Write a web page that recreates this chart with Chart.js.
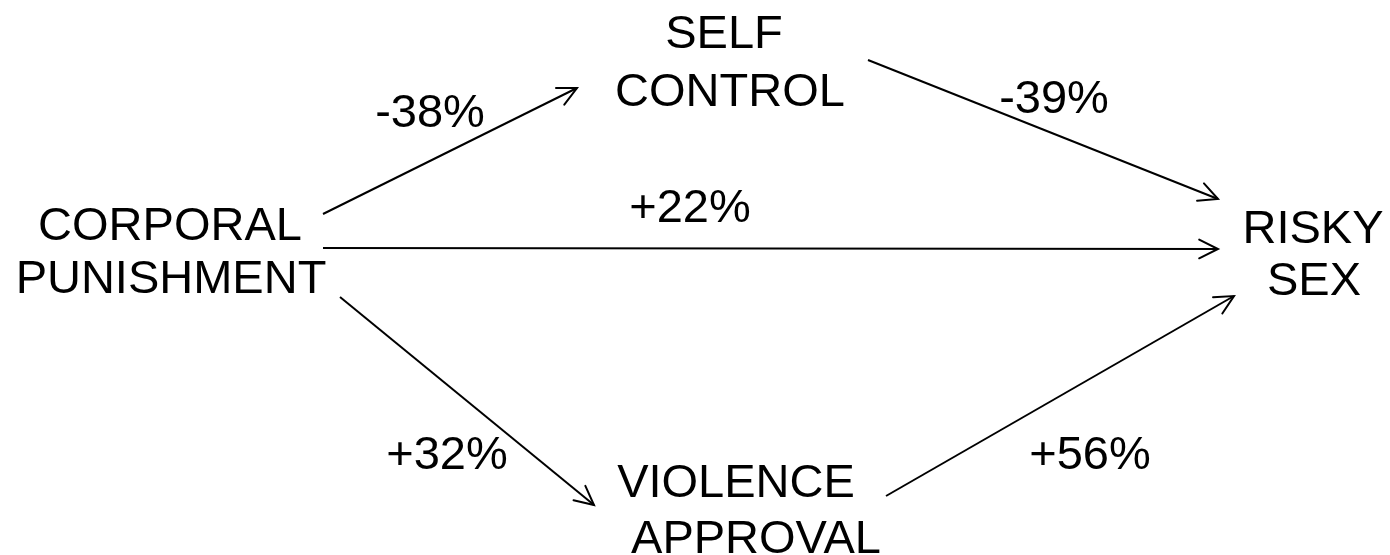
<!DOCTYPE html>
<html lang="en">
<head>
    <meta charset="UTF-8">
    <title>Corporal Punishment and Risky Sex</title>
    <script src="https://cdn.jsdelivr.net/npm/chart.js"></script>
    <style>
        html, body {
            margin: 0;
            padding: 0;
            background: #fff;
        }
        #wrap {
            width: 1390px;
            height: 555px;
            position: relative;
        }
    </style>
</head>
<body>
    <div id="wrap"><canvas id="pathChart"></canvas></div>

    <script>
        // nodes of the path model
        const nodeNames = ['CORPORAL PUNISHMENT', 'SELF CONTROL', 'VIOLENCE APPROVAL', 'RISKY SEX'];
        // paths: from node -> to node, effect (%)
        const pathFrom = [0, 1, 0, 0, 2];
        const pathTo = [1, 3, 3, 2, 3];
        const pathEffect = [-38, -39, 22, 32, 56];

        // layout in diagram units (same as page pixels, y grows downwards)
        const nodeLineX = [[170, 171], [724, 730], [736, 756], [1313, 1314]];
        const nodeLineY = [[240, 293], [48, 106], [497, 553], [243, 295]];
        const pathStart = [[323, 214], [868, 60], [323, 248], [340, 297], [886, 496]];
        const pathEnd = [[577, 88], [1218, 199], [1218, 249], [594, 505], [1234, 296]];
        const effectPos = [[430, 127], [1054, 113], [690, 222], [447, 469], [1090, 469]];

        const FONT = '47px "Liberation Sans", Arial, sans-serif';

        // arrowheads + texts
        const pathLabels = {
            id: 'pathLabels',
            afterDatasetsDraw(chart) {
                const ctx = chart.ctx;
                const xs = chart.scales.x;
                const ys = chart.scales.y;
                ctx.save();
                ctx.strokeStyle = '#000';
                ctx.lineWidth = 2;
                ctx.lineCap = 'round';

                chart.data.datasets.forEach((ds, i) => {
                    const pts = chart.getDatasetMeta(i).data;
                    const a = pts[0], b = pts[1];
                    const ang = Math.atan2(b.y - a.y, b.x - a.x);
                    const len = 21, spread = 0.46;
                    ctx.beginPath();
                    ctx.moveTo(b.x - len * Math.cos(ang - spread), b.y - len * Math.sin(ang - spread));
                    ctx.lineTo(b.x, b.y);
                    ctx.lineTo(b.x - len * Math.cos(ang + spread), b.y - len * Math.sin(ang + spread));
                    ctx.stroke();
                });

                ctx.fillStyle = '#000';
                ctx.font = FONT;
                ctx.textAlign = 'center';
                ctx.textBaseline = 'alphabetic';

                nodeNames.forEach((name, n) => {
                    name.split(' ').forEach((line, k) => {
                        ctx.fillText(line, xs.getPixelForValue(nodeLineX[n][k]), ys.getPixelForValue(nodeLineY[n][k]));
                    });
                });

                pathEffect.forEach((v, i) => {
                    const txt = (v > 0 ? '+' : '') + v + '%';
                    ctx.fillText(txt, xs.getPixelForValue(effectPos[i][0]), ys.getPixelForValue(effectPos[i][1]));
                });
                ctx.restore();
            }
        };

        const datasets = pathEffect.map((v, i) => ({
            label: nodeNames[pathFrom[i]] + ' -> ' + nodeNames[pathTo[i]],
            data: [
                { x: pathStart[i][0], y: pathStart[i][1] },
                { x: pathEnd[i][0], y: pathEnd[i][1] },
            ],
            showLine: true,
            borderColor: '#000',
            borderWidth: 2,
            pointRadius: 0,
            clip: false,
        }));

        new Chart(document.getElementById('pathChart'), {
            type: 'scatter',
            data: { datasets },
            options: {
                responsive: true,
                maintainAspectRatio: false,
                animation: false,
                layout: { padding: 0 },
                plugins: {
                    legend: { display: false },
                    tooltip: { enabled: false },
                },
                scales: {
                    x: { type: 'linear', min: 0, max: 1390, display: false },
                    y: { type: 'linear', min: 0, max: 555, reverse: true, display: false },
                },
            },
            plugins: [pathLabels],
        });
    </script>
</body>
</html>
